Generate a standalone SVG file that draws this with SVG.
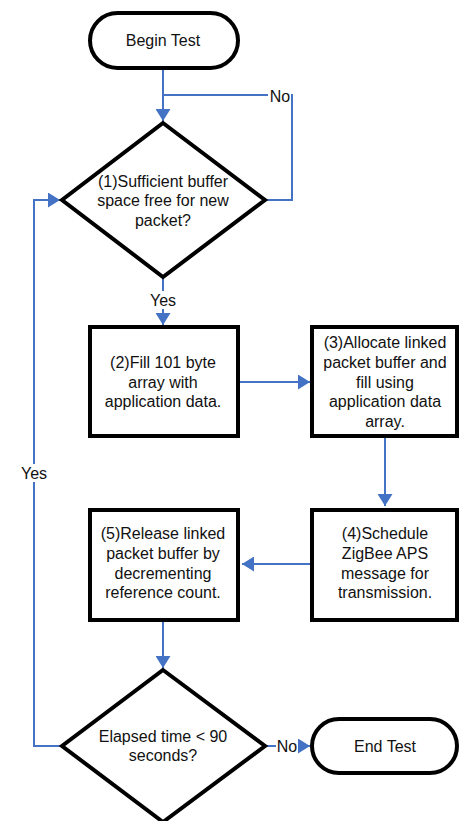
<svg xmlns="http://www.w3.org/2000/svg" width="460" height="821" viewBox="0 0 460 821">
<style>
.n{fill:#fff;stroke:#000;stroke-width:4;stroke-linejoin:miter}
.t{font-family:"Liberation Sans",Arial,sans-serif;font-size:16px;fill:#111;text-anchor:middle;dominant-baseline:central}
.c{fill:none;stroke:#4472C4;stroke-width:2}
.lb{fill:#fff}
</style>
<defs>
<marker id="ah" viewBox="0 0 12 15" refX="12" refY="7.5" markerWidth="12" markerHeight="15" markerUnits="userSpaceOnUse" orient="auto">
<path d="M0,0 L12,7.5 L0,15 Z" fill="#4472C4"/>
</marker>
</defs>
<g id="connectors">
<path class="c" d="M163,69 V121" marker-end="url(#ah)"/>
<path class="c" d="M265,200 H292 V95 H163"/>
<path class="c" d="M163,277 V325" marker-end="url(#ah)"/>
<path class="c" d="M240,382 H310" marker-end="url(#ah)"/>
<path class="c" d="M385,437 V506" marker-end="url(#ah)"/>
<path class="c" d="M310,564 H242" marker-end="url(#ah)"/>
<path class="c" d="M163,621 V668" marker-end="url(#ah)"/>
<path class="c" d="M265,746 H310" marker-end="url(#ah)"/>
<path class="c" d="M62,746 H34 V200 H60" marker-end="url(#ah)"/>
<rect class="lb" x="268" y="86" width="23" height="18"/>
<text class="t" x="280" y="96">No</text>
<rect class="lb" x="147" y="291" width="32" height="18"/>
<text class="t" x="163" y="300">Yes</text>
<rect class="lb" x="20" y="464" width="30" height="18"/>
<text class="t" x="34" y="473">Yes</text>
<rect class="lb" x="276" y="737" width="22" height="18"/>
<text class="t" x="287" y="746">No</text>
</g>
<g id="begin">
<rect class="n" x="90" y="13" width="148" height="55" rx="27.5"/>
<text class="t" x="163" y="40">Begin Test</text>
</g>
<g id="decision1">
<path class="n" d="M163,123 L265,200 L163,277 L62,200 Z"/>
<text class="t" x="163" y="181">(1)Sufficient buffer</text>
<text class="t" x="163" y="200">space free for new</text>
<text class="t" x="163" y="220">packet?</text>
</g>
<g id="step2">
<rect class="n" x="90" y="327" width="148" height="109"/>
<text class="t" x="163" y="362">(2)Fill 101 byte</text>
<text class="t" x="163" y="382">array with</text>
<text class="t" x="163" y="401">application data.</text>
</g>
<g id="step3">
<rect class="n" x="312" y="327" width="145" height="109"/>
<text class="t" x="385" y="342">(3)Allocate linked</text>
<text class="t" x="385" y="362">packet buffer and</text>
<text class="t" x="385" y="382">fill using</text>
<text class="t" x="385" y="401">application data</text>
<text class="t" x="385" y="421">array.</text>
</g>
<g id="step4">
<rect class="n" x="312" y="510" width="145" height="110"/>
<text class="t" x="385" y="533">(4)Schedule</text>
<text class="t" x="385" y="553">ZigBee APS</text>
<text class="t" x="385" y="573">message for</text>
<text class="t" x="385" y="592">transmission.</text>
</g>
<g id="step5">
<rect class="n" x="90" y="510" width="148" height="110"/>
<text class="t" x="163" y="533">(5)Release linked</text>
<text class="t" x="163" y="553">packet buffer by</text>
<text class="t" x="163" y="573">decrementing</text>
<text class="t" x="163" y="592">reference count.</text>
</g>
<g id="decision2">
<path class="n" d="M163,670 L265,746 L163,822 L62,746 Z"/>
<text class="t" x="163" y="736">Elapsed time &lt; 90</text>
<text class="t" x="163" y="755">seconds?</text>
</g>
<g id="end">
<rect class="n" x="312" y="719" width="145" height="54" rx="27"/>
<text class="t" x="385" y="746">End Test</text>
</g>
</svg>
